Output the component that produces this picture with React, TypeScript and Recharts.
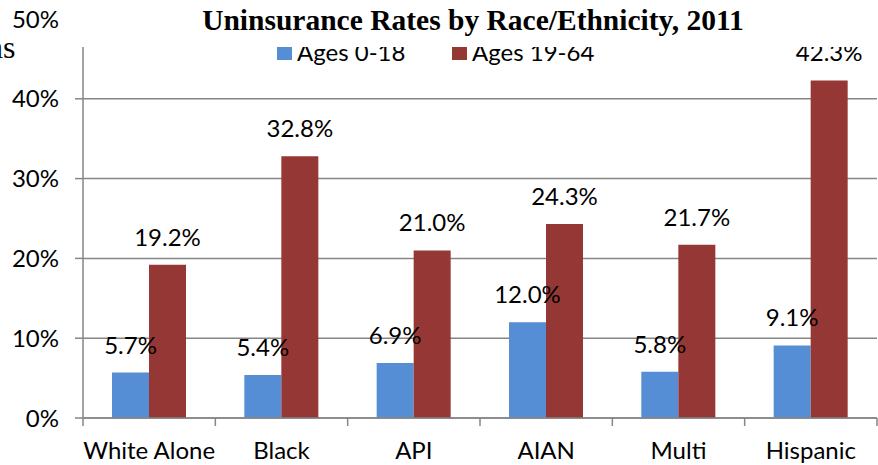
import React from "react";
import {
  BarChart,
  Bar,
  XAxis,
  YAxis,
  CartesianGrid,
  Legend,
  LabelList,
} from "recharts";

const groups = ["White Alone", "Black", "API", "AIAN", "Multi", "Hispanic"];
const kids = [5.7, 5.4, 6.9, 12.0, 5.8, 9.1];
const adults = [19.2, 32.8, 21.0, 24.3, 21.7, 42.3];
const yTicks = [0, 10, 20, 30, 40, 50];

const data = groups.map((name, i) => ({
  name,
  kids: kids[i],
  adults: adults[i],
}));

const GRID = "#868686";
const FONT = "Lato, sans-serif";

// category axis tick: label in the middle, tick marks on the band edges
const CatTick = (props: any) => {
  const { x, y, payload, index, visibleTicksCount } = props;
  const half = payload.offset || 0;
  const axisY = y - 24;
  return (
    <g>
      <line x1={x - half} x2={x - half} y1={axisY} y2={axisY + 8} stroke={GRID} strokeWidth={1.5} />
      {index === visibleTicksCount - 1 && (
        <line x1={x + half} x2={x + half} y1={axisY} y2={axisY + 8} stroke={GRID} strokeWidth={1.5} />
      )}
      <text x={x} y={y + 17} textAnchor="middle" fontSize={24} fill="#000" fontFamily={FONT}>
        {payload.value}
      </text>
    </g>
  );
};

const renderLegend = (props: any) => {
  const { payload } = props;
  return (
    <div style={{ display: "flex", fontFamily: FONT, fontSize: 24, lineHeight: "24px" }}>
      {payload.map((p: any, i: number) => (
        <div key={i} style={{ display: "flex", width: i === 0 ? 175 : "auto" }}>
          <div style={{ width: 15, height: 15, marginTop: 5, background: p.color }} />
          <span style={{ marginLeft: 5, color: "#000" }}>{p.value}</span>
        </div>
      ))}
    </div>
  );
};

const pct = (v: any) => `${Number(v).toFixed(1)}%`;

export default function App() {
  return (
    <div
      style={{
        position: "absolute",
        left: 0,
        top: 0,
        width: 878,
        height: 465,
        background: "#fff",
        overflow: "hidden",
      }}
    >
      <BarChart
        width={878}
        height={465}
        data={data}
        margin={{ top: 19, right: 1, left: 0, bottom: 0 }}
        barCategoryGap={29}
        barGap={0}
      >
        <CartesianGrid vertical={false} stroke={GRID} strokeWidth={1.5} />
        <XAxis
          dataKey="name"
          height={47}
          tickSize={8}
          tickMargin={16}
          tickLine={false}
          axisLine={{ stroke: GRID, strokeWidth: 1.5 }}
          tick={(p: any) => <CatTick {...p} />}
          interval={0}
        />
        <YAxis
          width={83}
          domain={[0, 50]}
          ticks={yTicks}
          tickSize={8}
          tickMargin={16}
          tickFormatter={(v: number) => `${v}%`}
          axisLine={{ stroke: GRID, strokeWidth: 1.5 }}
          tickLine={{ stroke: GRID, strokeWidth: 1.5 }}
          tick={{ fill: "#000", fontSize: 24, fontFamily: FONT }}
        />
        <Legend
          layout="horizontal"
          verticalAlign="middle"
          align="center"
          content={renderLegend}
          wrapperStyle={{ top: 40, left: 277, width: 400, height: 30 }}
        />
        <Bar dataKey="kids" name="Ages 0-18" fill="#558ED5" isAnimationActive={false}>
          <LabelList
            dataKey="kids"
            position="top"
            offset={19}
            formatter={pct}
            fill="#000"
            fontSize={24}
            fontFamily={FONT}
          />
        </Bar>
        <Bar dataKey="adults" name="Ages 19-64" fill="#953735" isAnimationActive={false}>
          <LabelList
            dataKey="adults"
            position="top"
            offset={19}
            formatter={pct}
            fill="#000"
            fontSize={24}
            fontFamily={FONT}
          />
        </Bar>
      </BarChart>
      <div
        style={{
          position: "absolute",
          left: 68,
          top: 0,
          width: 810,
          height: 47,
          background: "#fff",
          zIndex: 5,
        }}
      >
        <div
          style={{
            position: "absolute",
            left: 0,
            right: 0,
            top: 3,
            textAlign: "center",
            fontFamily: "'Liberation Serif', serif",
            fontWeight: "bold",
            fontSize: 29.5,
            lineHeight: "34px",
          }}
        >
          Uninsurance Rates by Race/Ethnicity, 2011
        </div>
      </div>
      <div
        style={{
          position: "absolute",
          left: -13,
          top: 31,
          fontFamily: "'Liberation Serif', serif",
          fontSize: 32,
          lineHeight: "32px",
        }}
      >
        ns
      </div>
    </div>
  );
}
